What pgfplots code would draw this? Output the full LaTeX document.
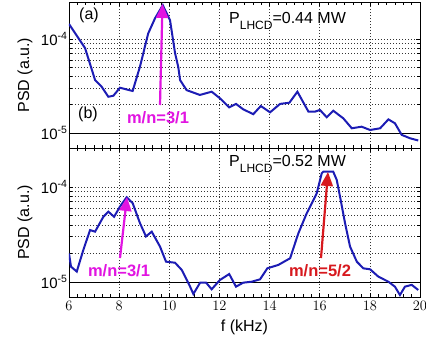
\documentclass[border=0pt]{standalone}
\usepackage{pgfplots}
\pgfplotsset{compat=1.18}
\usepackage{pgfplotstable}
\usetikzlibrary{arrows.meta}
\usepackage{fontspec}
\setmainfont{Liberation Sans}
\definecolor{cblue}{RGB}{28,28,180}
\definecolor{cmag}{RGB}{225,20,225}
\definecolor{cred}{RGB}{215,25,30}

\pgfplotstableread{
f psd
6.00 1.445e-4
6.20 1.202e-4
6.64 8.02e-5
7.04 3.66e-5
7.30 3.11e-5
7.57 2.43e-5
7.77 2.49e-5
8.03 3.03e-5
8.54 2.80e-5
8.83 5.08e-5
9.16 1.148e-4
9.43 1.660e-4
9.74 2.29e-4
10.03 1.585e-4
10.23 7.08e-5
10.36 5.01e-5
10.43 3.66e-5
10.69 2.86e-5
11.22 2.54e-5
11.69 2.75e-5
12.02 2.34e-5
12.39 1.875e-5
12.66 2.04e-5
12.95 1.786e-5
13.35 1.585e-5
13.65 1.936e-5
14.02 1.660e-5
14.42 2.04e-5
14.79 2.10e-5
15.11 2.75e-5
15.55 1.687e-5
15.81 1.687e-5
16.01 1.758e-5
16.28 1.469e-5
16.54 1.726e-5
16.94 1.432e-5
17.28 1.122e-5
17.67 1.167e-5
18.01 1.076e-5
18.41 1.122e-5
18.74 1.396e-5
19.00 1.268e-5
19.27 9.55e-6
19.60 8.79e-6
19.93 8.32e-6
}\dataA

\pgfplotstableread{
f psd
6.00 2.00e-5
6.08 1.449e-5
6.31 1.288e-5
6.57 2.17e-5
6.84 3.52e-5
7.04 3.39e-5
7.37 4.86e-5
7.57 5.50e-5
7.80 4.86e-5
8.03 6.21e-5
8.30 7.80e-5
8.54 6.76e-5
8.83 4.17e-5
9.07 3.02e-5
9.30 3.39e-5
9.63 2.36e-5
9.87 1.637e-5
10.23 1.596e-5
10.50 1.337e-5
10.83 8.93e-6
10.96 7.48e-6
11.23 9.84e-6
11.47 9.84e-6
11.69 8.38e-6
12.02 1.050e-5
12.39 1.213e-5
12.66 8.93e-6
12.95 9.84e-6
13.29 1.007e-5
13.62 1.067e-5
13.91 1.393e-5
14.35 1.514e-5
14.82 1.778e-5
15.08 2.88e-5
15.15 3.26e-5
15.48 5.28e-5
15.75 7.29e-5
15.88 8.59e-5
16.08 1.393e-4
16.14 1.449e-4
16.34 1.449e-4
16.54 1.449e-4
16.68 1.186e-4
16.81 7.94e-5
17.01 4.17e-5
17.21 2.36e-5
17.48 1.637e-5
17.74 1.393e-5
18.01 1.361e-5
18.34 1.138e-5
18.74 1.007e-5
19.00 8.93e-6
19.20 7.29e-6
19.40 8.93e-6
19.67 9.33e-6
19.93 8.24e-6
}\dataB

\pgfplotsset{
  every axis/.append style={
  scale only axis, width=351pt,
  xmin=6, xmax=20,
  xtick={6,8,...,20}, minor x tick num=5,
  ytick={1e-5,1e-4}, yticklabels={{10\textsuperscript{-5}},{10\textsuperscript{-4}}},
  minor ytick={2e-5,3e-5,4e-5,5e-5,6e-5,7e-5,8e-5,9e-5},
  xmajorgrids, ymajorgrids, yminorgrids,
  major grid style={black!80, line width=0.6pt, dash pattern=on 0.8pt off 2.2pt},
  minor grid style={black!80, line width=0.6pt, dash pattern=on 0.8pt off 2.2pt},
  tick align=inside, major tick length=4pt, minor tick length=3pt,
  axis line style={black, line width=0.8pt},
  every tick/.style={black, line width=0.6pt},
  tick label style={font=\fontsize{15}{17}\selectfont},
  yticklabel style={xshift=2pt},
  xticklabel style={yshift=-1pt},
  ylabel={PSD (a.u.)},
  every axis y label/.style={at={(axis description cs:0,0.5)}, anchor=center, rotate=90, yshift=44pt, font=\fontsize{16}{18}\selectfont},
}}

\begin{document}
\begin{tikzpicture}[x=1pt,y=1pt]
\useasboundingbox (0,0) rectangle (426,338);
\begin{axis}[ymode=log, at={(69pt,190pt)}, anchor=south west, height=146pt,
  ymin=6.92e-6, ymax=2.477e-4, xticklabels={}]
\addplot[black, line width=0.6pt] coordinates {(6,1e-5) (20,1e-5)};
\addplot[cblue, line width=2pt] table[x=f,y=psd] {\dataA};
\end{axis}
\begin{axis}[ymode=log, at={(69pt,41pt)}, anchor=south west, height=149pt,
  ymin=6.95e-6, ymax=2.576e-4, xlabel={f (kHz)},
  xlabel style={font=\fontsize{16}{18}\selectfont, yshift=-2pt}]
\addplot[black, line width=0.6pt] coordinates {(6,1e-5) (20,1e-5)};
\addplot[cblue, line width=2pt] table[x=f,y=psd] {\dataB};
\end{axis}
\def\fs{\fontsize{16}{18}\selectfont}
\node[font=\fs] at (89,323) {(a)};
\node[font=\fs] at (88,224) {(b)};
\node[font=\fs, anchor=west, inner sep=0] at (229,317) {P\raisebox{-6pt}{\fontsize{12}{12}\selectfont LHCD}=0.44 MW};
\node[font=\fs, anchor=west, inner sep=0] at (229,174) {P\raisebox{-6pt}{\fontsize{12}{12}\selectfont LHCD}=0.52 MW};
\draw[cmag, line width=2.2pt, -{Triangle[length=14pt,width=12pt]}] (160,233) -- (162.5,334);
\draw[cmag, line width=2.2pt, -{Triangle[length=14pt,width=12pt]}] (120,80) -- (127,141);
\draw[cred, line width=2.2pt, -{Triangle[length=14pt,width=12pt]}] (321,80) -- (328,166);
\node[font=\fontsize{16.5}{18}\selectfont\bfseries, text=cmag] at (158,220) {m/n=3/1};
\node[font=\fontsize{16.5}{18}\selectfont\bfseries, text=cmag] at (119,67) {m/n=3/1};
\node[font=\fontsize{16.5}{18}\selectfont\bfseries, text=cred] at (320,67) {m/n=5/2};
\end{tikzpicture}
\end{document}
